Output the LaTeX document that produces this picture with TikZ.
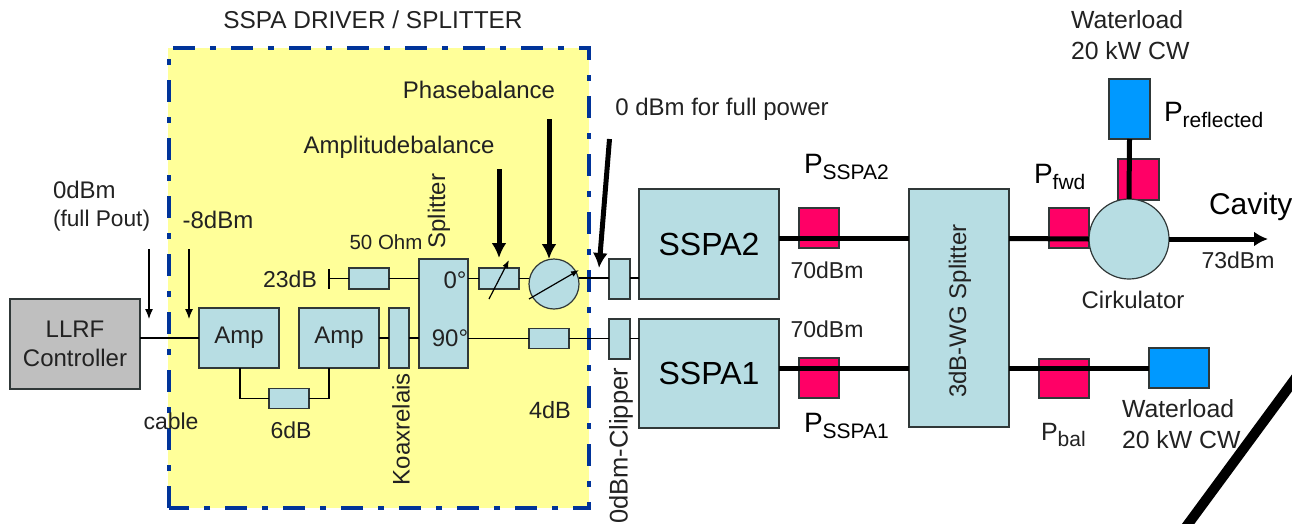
\documentclass[tikz,border=0pt]{standalone}
\usepackage{fontspec}
\setmainfont{Liberation Sans}
\usetikzlibrary{arrows.meta}
\definecolor{boxfill}{HTML}{B7DDE3}
\definecolor{yell}{HTML}{FFFF99}
\definecolor{pinkb}{HTML}{FF0066}
\definecolor{blueb}{HTML}{0099FF}
\definecolor{frameb}{HTML}{003399}
\definecolor{edge}{HTML}{303838}
\definecolor{txt}{HTML}{222222}
\newcommand{\fsz}[1]{\fontsize{#1}{#1}\selectfont}
\newcommand{\mysub}[1]{\raisebox{-6pt}{\fsz{21}#1}}
\tikzset{
  blockb/.style={draw=edge,line width=1.2pt,fill=boxfill,inner sep=0pt,outer sep=0pt,text=txt},
  sensor/.style={draw=edge,line width=1.2pt,fill=pinkb,inner sep=0pt,outer sep=0pt},
  loadb/.style={draw=edge,line width=1.2pt,fill=blueb,inner sep=0pt,outer sep=0pt},
  lab/.style={inner sep=0pt,outer sep=0pt,text=txt,font=\fsz{24},align=center},
  thin line/.style={line width=1.3pt,draw=black},
  thick line/.style={line width=5pt,draw=black},
  thinarrow/.style={line width=1.2pt,-{Latex[width=8pt,length=10pt]}},
  bigarrow/.style={line width=5pt,-{Latex[width=15pt,length=15pt]}},
  dial/.style={line width=1.2pt,-{Latex[width=6pt,length=8pt]}},
}
\begin{document}
\begin{tikzpicture}[x=1pt,y=-1pt]
\useasboundingbox (0,0) rectangle (1292,523);
\clip (0,0) rectangle (1292,523);
\fill[white] (0,0) rectangle (1292,523);
% driver frame
\fill[yell] (168,48) rectangle (589,508);
\draw[frameb,line width=4.5pt,dash pattern=on 22pt off 15pt on 6pt off 15pt] (169,508) -- (169,48) -- (589,48) -- (589,508) -- cycle;
% big stroke
\coordinate (diagA) at (1300,372);
\coordinate (diagB) at (1180,535);
\draw[line width=10pt] (diagA) -- (diagB);
% levels
\coordinate (yTop) at (0,278);
\coordinate (yMid) at (0,338);
\coordinate (yU) at (0,238.5);
\coordinate (yL) at (0,368);
% blocks
\node[draw=edge,line width=1.2pt,fill=black!25,inner sep=0pt,outer sep=0pt,minimum width=130pt,minimum height=90pt,font=\fsz{24},align=center,text=txt] (llrf) at (75,344) {LLRF\\[5pt]Controller};
\node[blockb,minimum width=80pt,minimum height=60pt,font=\fsz{24}] (amp1) at (239,338) {Amp};
\node[blockb,minimum width=80pt,minimum height=60pt,font=\fsz{24}] (amp2) at (339,338) {Amp};
\node[blockb,minimum width=20pt,minimum height=60pt] (koax) at (399,338) {};
\node[blockb,minimum width=49pt,minimum height=109pt] (split) at (443.5,313.5) {};
\node[blockb,minimum width=40pt,minimum height=21pt] (ohm) at (369,278.5) {};
\node[blockb,minimum width=40pt,minimum height=20pt] (sixdb) at (289,398.5) {};
\node[blockb,minimum width=40pt,minimum height=21pt] (attn) at (499,278.5) {};
\node[blockb,circle,minimum size=50pt] (phase) at (554,284) {};
\node[blockb,minimum width=40pt,minimum height=20pt] (fourdb) at (549,338.5) {};
\node[blockb,minimum width=21pt,minimum height=40pt] (clipU) at (619.5,279) {};
\node[blockb,minimum width=21pt,minimum height=40pt] (clipL) at (619.5,339) {};
\node[blockb,minimum width=140pt,minimum height=110pt,font=\fsz{32},text=black] (sspaU) at (709,244) {SSPA2};
\node[blockb,minimum width=140pt,minimum height=109pt,font=\fsz{32},text=black] (sspaL) at (709,373.5) {SSPA1};
\node[sensor,minimum width=40pt,minimum height=40pt] (pU) at (819,228) {};
\node[sensor,minimum width=40pt,minimum height=40pt] (pL) at (819,378) {};
\node[blockb,minimum width=100pt,minimum height=238pt] (wg) at (959,308) {};
\node[sensor,minimum width=40pt,minimum height=40pt] (pF) at (1069,228) {};
\node[sensor,minimum width=41pt,minimum height=41pt] (pR) at (1138.5,179.5) {};
\node[sensor,minimum width=50pt,minimum height=39pt] (pB) at (1064,378.5) {};
\node[loadb,minimum width=41pt,minimum height=60pt] (wlU) at (1129.5,109) {};
\node[loadb,minimum width=60pt,minimum height=40pt] (wlL) at (1179,368) {};
% thin connectors
\draw[thin line] (llrf.east |- yMid) -- (amp1.west);
\draw[thin line] (amp2.east) -- (koax.west);
\draw[thin line] (koax.east) -- (split.west |- yMid);
\coordinate (amp1tap) at (240,368);
\coordinate (amp2tap) at (329,368);
\draw[thin line] (amp1tap) |- (sixdb.west);
\draw[thin line] (sixdb.east) -| (amp2tap);
\coordinate (stub) at (329,278.5);
\draw[thin line] (ohm.west) -- (stub);
\draw[thin line] ([yshift=-10pt]stub) -- ([yshift=10pt]stub);
\draw[thin line] (ohm.east) -- (split.west |- ohm.east);
\draw[thin line] (split.east |- attn.west) -- (attn.west);
\draw[thin line] (attn.east) -- (phase.west |- attn.east);
\draw[thin line] (phase.east |- yTop) -- (clipU.west |- yTop);
\draw[thin line] (clipU.east |- yTop) -- (sspaU.west |- yTop);
\draw[thin line] (split.east |- fourdb.west) -- (fourdb.west);
\draw[thin line] (fourdb.east) -- (clipL.west |- fourdb.east);
\draw[thin line] (clipL.east |- fourdb.east) -- (sspaL.west |- fourdb.east);
% thick connectors
\draw[thick line] (sspaU.east |- yU) -- (wg.west |- yU);
\draw[thick line] (sspaL.east |- yL) -- (wg.west |- yL);
\node[blockb,circle,minimum size=80pt] (circ) at (1129,239) {};
\draw[thick line] (wg.east |- yU) -- (circ.west);
\draw[thick line] (wg.east |- yL) -- (wlL.west);
\draw[thick line] (wlU.south) -- (circ.north);
\coordinate (cavEnd) at (1268,239);
\draw[line width=5pt,-{Latex[width=15pt,length=14pt]}] (circ.east) -- (cavEnd);
% dial arrows
\coordinate (dA) at (489,299); \coordinate (dB) at (509,260);
\coordinate (eA) at (529,299); \coordinate (eB) at (579,270);
\draw[dial] (dA) -- (dB);
\draw[dial] (eA) -- (eB);
% pointer arrows
\coordinate (a1) at (149,249); \coordinate (a1e) at (149,319);
\coordinate (a2) at (189,249); \coordinate (a2e) at (189,319);
\draw[thinarrow] (a1) -- (a1e);
\draw[thinarrow] (a2) -- (a2e);
\coordinate (b1) at (499,169);
\coordinate (b2) at (549,119);
\coordinate (b3) at (609.5,139); \coordinate (b3e) at (599,268);
\draw[bigarrow] (b1) -- (attn.north |- 0,258);
\draw[bigarrow] (b2) -- (b2 |- phase.north);
\draw[bigarrow] (b3) -- (b3e);
% labels
\node[lab] (title) at (373,20) {\fsz{24.4}SSPA DRIVER / SPLITTER};
\node[lab,anchor=west,align=left,font=\fsz{24.8}] (wtxtU) at (1071,35) {Waterload\\[6pt]20 kW CW};
\node[lab] (phtxt) at (479,90) {Phasebalance};
\node[lab] (amtxt) at (399,147) {Amplitudebalance};
\node[lab] (zerofull) at (722,109) {0 dBm for full power};
\node[lab,anchor=west] (zd) at (53,190) {0dBm};
\node[lab,anchor=west,font=\fsz{22.7}] (fp) at (53,221) {(full Pout)};
\node[lab] (m8) at (218,220) {-8dBm};
\node[lab,font=\fsz{20.5}] (oh) at (386,242) {50 Ohm};
\node[lab,font=\fsz{23}] (t3) at (290,279) {23dB};
\node[lab,font=\fsz{23}] (cab) at (171,421) {cable};
\node[lab,font=\fsz{23}] (s6) at (291,430) {6dB};
\node[lab,font=\fsz{23.5}] (f4) at (550,410) {4dB};
\node[lab] (d0) at (455,280) {0°};
\node[lab] (d90) at (450,338) {90°};
\node[lab,rotate=90] (kx) at (401,429) {Koaxrelais};
\node[lab,rotate=90] (sp) at (439,211) {Splitter};
\node[lab,rotate=90,font=\fsz{25.5}] (cl) at (621,446) {0dBm-Clipper};
\node[lab,rotate=90] (wgt) at (960,311) {3dB-WG Splitter};
\node[lab,font=\fsz{23}] (s70U) at (827,270) {70dBm};
\node[lab,font=\fsz{23}] (s70L) at (827,329) {70dBm};
\node[lab,anchor=west,font=\fsz{28},text=black] (tU) at (804,167) {P\mysub{SSPA2}};
\node[lab,anchor=west,font=\fsz{28},text=black] (tL) at (804,426) {P\mysub{SSPA1}};
\node[lab,anchor=west,font=\fsz{28},text=black] (tF) at (1034,177) {P\mysub{fwd}};
\node[lab,anchor=west,font=\fsz{28},text=black] (tR) at (1164,115) {P\mysub{reflected}};
\node[lab,anchor=west,font=\fsz{25}] (tB) at (1041,435) {P\mysub{bal}};
\node[lab,anchor=west,font=\fsz{30},text=black] (cav) at (1209,207) {Cavity};
\node[lab,font=\fsz{23}] (d73) at (1238,260) {73dBm};
\node[lab,font=\fsz{24}] (cirk) at (1133,300) {Cirkulator};
\node[lab,anchor=west,align=left,font=\fsz{24.8}] (wtxtL) at (1122,424) {Waterload\\[6pt]20 kW CW};
\end{tikzpicture}
\end{document}
